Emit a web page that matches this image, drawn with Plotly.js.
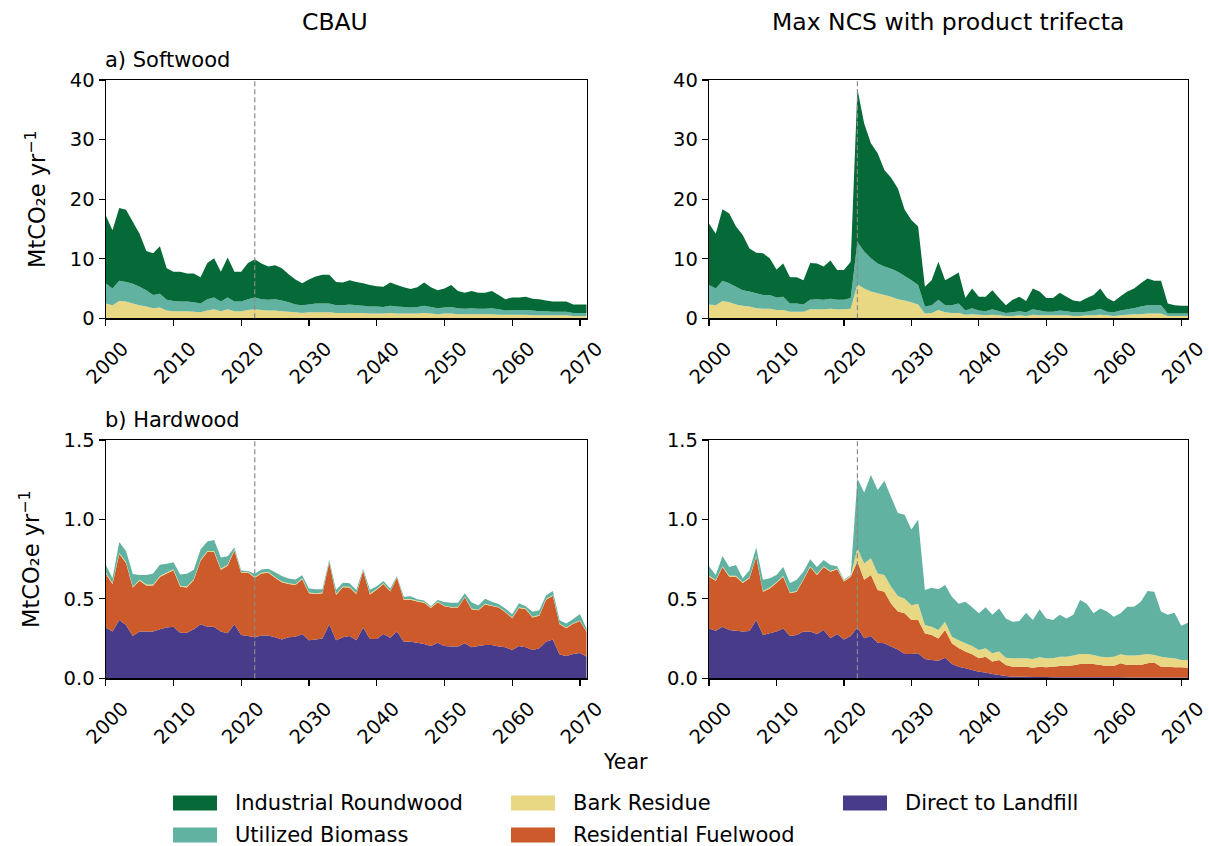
<!DOCTYPE html>
<html><head><meta charset="utf-8">
<script src="https://cdn.plot.ly/plotly-3.0.1.min.js"></script>
<style>html,body{margin:0;padding:0;background:#fff;} #chart{width:1209px;height:846px;}</style>
</head><body><div id="chart"></div>
<script>
// ---------------- DATA ----------------
const years = [2000,2001,2002,2003,2004,2005,2006,2007,2008,2009,
 2010,2011,2012,2013,2014,2015,2016,2017,2018,2019,
 2020,2021,2022,2023,2024,2025,2026,2027,2028,2029,
 2030,2031,2032,2033,2034,2035,2036,2037,2038,2039,
 2040,2041,2042,2043,2044,2045,2046,2047,2048,2049,
 2050,2051,2052,2053,2054,2055,2056,2057,2058,2059,
 2060,2061,2062,2063,2064,2065,2066,2067,2068,2069,
 2070,2071];
const xTickVals = [2000,2010,2020,2030,2040,2050,2060,2070];
const dashYear = 2022;

// Softwood, CBAU
const swBarkCBAU = [2.5,2.2,2.9,2.8,2.5,2.2,2.0,1.7,1.8,1.3, 1.2,1.2,1.2,1.1,1.0,1.3,1.5,1.2,1.5,1.2, 1.2,1.4,1.5,1.4,1.3,1.3,1.2,1.1,1.0,0.9, 1.0,1.0,1.0,1.0,0.9,0.9,0.9,0.9,0.9,0.8, 0.8,0.8,0.9,0.8,0.8,0.8,0.8,0.9,0.8,0.7, 0.8,0.8,0.7,0.7,0.7,0.7,0.7,0.7,0.6,0.6, 0.6,0.6,0.6,0.5,0.5,0.5,0.5,0.5,0.5,0.4, 0.4,0.4];
const swUBCBAU = [3.4,2.8,3.4,3.3,3.3,3.1,2.7,2.2,2.3,1.8, 1.7,1.6,1.6,1.6,1.5,1.9,2.0,1.6,2.0,1.6, 1.6,1.8,2.0,1.8,1.8,1.9,1.8,1.6,1.3,1.3, 1.3,1.5,1.5,1.5,1.3,1.3,1.4,1.3,1.2,1.2, 1.2,1.1,1.2,1.2,1.1,1.0,1.1,1.2,1.1,1.0, 1.0,1.1,1.0,0.9,1.0,0.9,0.9,1.0,0.9,0.7, 0.8,0.8,0.8,0.8,0.7,0.7,0.6,0.6,0.6,0.5, 0.5,0.5];
const swIRCBAU = [11.4,9.8,12.2,12.1,10.4,8.9,6.6,7.0,8.0,5.3, 4.9,5.0,4.7,4.8,4.4,6.1,6.6,5.0,6.7,5.0, 5.0,6.1,6.4,6.0,5.6,5.7,5.4,4.7,4.2,3.7, 4.2,4.5,4.8,4.8,3.9,3.8,4.1,3.9,3.8,3.6, 3.4,3.4,3.9,3.6,3.3,3.1,3.3,3.9,3.3,3.0, 3.2,3.7,2.9,2.7,2.9,2.7,2.7,2.9,2.4,1.9, 2.1,2.1,2.2,2.0,2.0,1.8,1.7,1.7,1.7,1.4, 1.4,1.4];

// Softwood, Max NCS with product trifecta
const swBarkNCS = [2.3,2.2,2.9,2.7,2.3,2.1,2.0,1.7,1.6,1.6, 1.4,1.4,1.1,1.1,1.1,1.5,1.5,1.5,1.6,1.5, 1.5,1.6,5.7,5.0,4.5,4.2,3.9,3.6,3.2,3.0, 2.7,2.3,0.8,0.9,1.4,1.0,0.9,0.9,0.6,0.7, 0.6,0.5,0.6,0.5,0.4,0.4,0.5,0.4,0.6,0.5, 0.5,0.5,0.5,0.5,0.4,0.4,0.5,0.5,0.6,0.5, 0.4,0.5,0.6,0.7,0.7,0.8,0.8,0.8,0.4,0.4, 0.4,0.4];
const swUBNCS = [3.3,2.8,3.4,3.2,3.0,2.6,2.5,2.5,2.3,2.3, 2.1,2.2,1.4,1.4,1.2,1.6,1.7,1.6,1.7,1.6, 1.6,1.8,7.1,6.2,5.6,5.0,4.8,4.7,4.6,4.1, 3.7,3.3,1.2,1.3,1.7,1.2,1.3,1.6,0.7,1.0, 0.7,0.7,0.9,0.7,0.5,0.6,0.7,0.6,0.9,0.8, 0.6,0.6,0.8,0.7,0.6,0.6,0.6,0.8,1.0,0.6, 0.6,0.8,0.9,1.0,1.3,1.4,1.4,1.4,0.4,0.4, 0.4,0.4];
const swIRNCS = [10.3,9.2,12.0,11.7,10.1,9.3,7.2,6.8,7.0,6.2, 4.7,5.6,4.4,4.4,4.1,6.2,6.0,5.6,6.4,5.0, 5.0,6.1,25.7,21.5,19.3,18.5,16.2,15.3,14.0,11.1, 10.1,9.8,3.3,4.2,6.4,4.2,4.8,5.2,2.1,3.3, 2.3,2.4,3.2,2.2,1.3,2.1,2.4,1.9,3.5,3.2, 2.3,2.3,3.0,2.4,2.0,1.8,2.3,2.6,3.4,2.3, 1.8,2.4,3.0,3.3,3.9,4.5,4.1,4.1,1.7,1.4, 1.3,1.3];

// Hardwood, CBAU
const hwDLCBAU = [0.320,0.294,0.367,0.336,0.266,0.294,0.294,0.294,0.308,0.320, 0.325,0.287,0.287,0.308,0.340,0.325,0.325,0.294,0.283,0.340, 0.273,0.266,0.258,0.270,0.270,0.258,0.245,0.258,0.262,0.279, 0.240,0.245,0.250,0.340,0.240,0.258,0.266,0.240,0.320,0.248, 0.248,0.279,0.256,0.294,0.230,0.230,0.224,0.216,0.203,0.224, 0.203,0.200,0.200,0.220,0.195,0.203,0.210,0.210,0.200,0.195, 0.178,0.203,0.195,0.178,0.189,0.230,0.245,0.150,0.140,0.153, 0.160,0.136];
const hwRFCBAU = [0.34,0.30,0.415,0.39,0.305,0.32,0.29,0.29,0.33,0.34, 0.355,0.29,0.285,0.31,0.40,0.47,0.47,0.39,0.425,0.465, 0.39,0.40,0.375,0.39,0.395,0.375,0.36,0.335,0.325,0.345, 0.295,0.285,0.285,0.39,0.285,0.315,0.305,0.29,0.355,0.28, 0.31,0.315,0.29,0.34,0.265,0.265,0.26,0.26,0.24,0.255, 0.25,0.245,0.245,0.29,0.24,0.225,0.255,0.245,0.245,0.22, 0.20,0.24,0.24,0.205,0.205,0.265,0.275,0.19,0.175,0.19, 0.20,0.155];
const hwBarkCBAU = [0.006,0.006,0.006,0.006,0.006,0.006,0.006,0.006,0.006,0.006, 0.006,0.006,0.006,0.006,0.006,0.006,0.006,0.006,0.006,0.006, 0.005,0.005,0.005,0.005,0.005,0.005,0.005,0.005,0.005,0.005, 0.005,0.005,0.005,0.005,0.005,0.005,0.005,0.005,0.005,0.005, 0.004,0.004,0.004,0.004,0.004,0.004,0.004,0.004,0.004,0.004, 0.004,0.004,0.004,0.004,0.004,0.004,0.004,0.004,0.004,0.004, 0.004,0.004,0.004,0.004,0.004,0.004,0.004,0.004,0.004,0.004, 0.004,0.004];
const hwUBCBAU = [0.05,0.03,0.07,0.07,0.08,0.03,0.06,0.07,0.07,0.055, 0.045,0.07,0.08,0.06,0.065,0.06,0.07,0.07,0.055,0.012, 0.01,0.005,0.02,0.02,0.02,0.03,0.034,0.03,0.03,0.02, 0.026,0.025,0.02,0.011,0.026,0.023,0.023,0.021,0.01,0.025, 0.017,0.015,0.016,0.006,0.014,0.018,0.01,0.01,0.007,0.01, 0.023,0.026,0.026,0.021,0.04,0.026,0.032,0.023,0.018,0.02, 0.021,0.026,0.015,0.032,0.03,0.024,0.026,0.021,0.026,0.027, 0.04,0.016];

// Hardwood, Max NCS with product trifecta
const hwDLNCS = [0.314,0.30,0.325,0.304,0.30,0.294,0.298,0.367,0.273,0.283, 0.294,0.314,0.266,0.273,0.294,0.294,0.279,0.304,0.252,0.279, 0.245,0.266,0.32,0.252,0.266,0.224,0.22,0.20,0.182,0.153, 0.153,0.157,0.122,0.115,0.111,0.13,0.09,0.073,0.063,0.052, 0.042,0.036,0.027,0.021,0.015,0.01,0.009,0.009,0.008,0.008, 0.008,0.007,0.007,0.007,0.007,0.007,0.006,0.006,0.006,0.006, 0.006,0.006,0.005,0.005,0.005,0.005,0.005,0.005,0.005,0.005, 0.005,0.005];
const hwRFNCS = [0.326,0.314,0.375,0.336,0.34,0.306,0.332,0.398,0.272,0.283, 0.306,0.326,0.269,0.272,0.326,0.406,0.371,0.396,0.418,0.407, 0.365,0.374,0.415,0.368,0.384,0.332,0.325,0.27,0.238,0.257, 0.214,0.21,0.161,0.158,0.139,0.174,0.13,0.117,0.105,0.099, 0.084,0.10,0.078,0.094,0.069,0.063,0.064,0.064,0.059,0.065, 0.061,0.066,0.071,0.071,0.075,0.083,0.084,0.084,0.078,0.072, 0.072,0.088,0.079,0.079,0.079,0.089,0.095,0.068,0.068,0.064, 0.064,0.062];
const hwBarkNCS = [0.005,0.005,0.005,0.005,0.005,0.005,0.005,0.005,0.005,0.005, 0.005,0.005,0.005,0.005,0.005,0.005,0.005,0.005,0.005,0.005, 0.005,0.005,0.083,0.103,0.105,0.104,0.105,0.107,0.098,0.09, 0.093,0.103,0.052,0.052,0.054,0.052,0.042,0.05,0.052,0.052, 0.052,0.053,0.052,0.053,0.046,0.053,0.053,0.053,0.055,0.059, 0.057,0.053,0.058,0.058,0.061,0.063,0.063,0.057,0.052,0.054, 0.058,0.057,0.059,0.059,0.063,0.059,0.047,0.063,0.057,0.057, 0.046,0.048];
const hwUBNCS = [0.061,0.031,0.065,0.055,0.068,0.025,0.045,0.054,0.07,0.059, 0.045,0.055,0.06,0.07,0.045,0.045,0.045,0.039,0.038,0.015, 0.005,0.005,0.44,0.447,0.525,0.525,0.593,0.563,0.522,0.53, 0.477,0.53,0.221,0.245,0.256,0.231,0.252,0.23,0.262,0.244, 0.232,0.258,0.243,0.272,0.247,0.23,0.234,0.287,0.245,0.302, 0.251,0.241,0.264,0.241,0.257,0.34,0.317,0.263,0.304,0.288, 0.252,0.259,0.307,0.307,0.335,0.397,0.398,0.284,0.27,0.287, 0.215,0.235];

// Labels
const seriesNames = ['Industrial Roundwood','Utilized Biomass','Bark Residue','Residential Fuelwood','Direct to Landfill'];
const seriesColors = {
  'Industrial Roundwood':'#056a38',
  'Utilized Biomass':'#62b2a1',
  'Bark Residue':'#e8d884',
  'Residential Fuelwood':'#cc5a2a',
  'Direct to Landfill':'#483b8a'
};
const columnTitles = ['CBAU','Max NCS with product trifecta'];
const rowTitles = ['a) Softwood','b) Hardwood'];
const yLabel = 'MtCO\u2082e yr<sup>\u22121</sup>';
const xLabel = 'Year';

// ---------------- BUILD ----------------
const W = 1209, H = 846;
const px = v => v / W;
const py = v => 1 - v / H;
const FONT = 'DejaVu Sans, sans-serif';

function area(name, vals, xa, ya, group){
  return {type:'scatter', x: years, y: vals, name: name, stackgroup: group,
    mode:'none', fillcolor: seriesColors[name], line:{width:0, color: seriesColors[name]},
    xaxis: xa, yaxis: ya, showlegend:false, hoverinfo:'x+y+name'};
}

const traces = [
  area('Bark Residue', swBarkCBAU, 'x', 'y', 'swC'),
  area('Utilized Biomass', swUBCBAU, 'x', 'y', 'swC'),
  area('Industrial Roundwood', swIRCBAU, 'x', 'y', 'swC'),

  area('Bark Residue', swBarkNCS, 'x2', 'y2', 'swN'),
  area('Utilized Biomass', swUBNCS, 'x2', 'y2', 'swN'),
  area('Industrial Roundwood', swIRNCS, 'x2', 'y2', 'swN'),

  area('Direct to Landfill', hwDLCBAU, 'x3', 'y3', 'hwC'),
  area('Residential Fuelwood', hwRFCBAU, 'x3', 'y3', 'hwC'),
  area('Bark Residue', hwBarkCBAU, 'x3', 'y3', 'hwC'),
  area('Utilized Biomass', hwUBCBAU, 'x3', 'y3', 'hwC'),

  area('Direct to Landfill', hwDLNCS, 'x4', 'y4', 'hwN'),
  area('Residential Fuelwood', hwRFNCS, 'x4', 'y4', 'hwN'),
  area('Bark Residue', hwBarkNCS, 'x4', 'y4', 'hwN'),
  area('Utilized Biomass', hwUBNCS, 'x4', 'y4', 'hwN')
];

const leftDom = [px(105.7), px(586.7)];
const rightDom = [px(709), px(1188)];
const topDom = [py(318.3), py(80)];
const botDom = [py(678.3), py(440)];

function xax(dom, anchor){
  return {domain: dom, anchor: anchor, range:[2000, 2071], tickmode:'array', tickvals: xTickVals,
    ticktext: xTickVals.map(String),
    ticks:'outside', ticklen:6, tickwidth:1.2, tickcolor:'#000', tickangle:-45,
    ticklabelshift: 17, ticklabelstandoff: 4, ticklabeloverflow:'allow',
    showline:true, linecolor:'#000', linewidth:1.2, mirror:true, showgrid:false, zeroline:false,
    tickfont:{family:FONT, size:19.5, color:'#000'}};
}
function yax(dom, anchor, range, dtick, fmt, title){
  const a = {domain: dom, anchor: anchor, range: range, dtick: dtick, tick0:0, tickformat: fmt,
    ticks:'outside', ticklen:6, tickwidth:1.2, tickcolor:'#000',
    showline:true, linecolor:'#000', linewidth:1.2, mirror:true, showgrid:false, zeroline:false,
    tickfont:{family:FONT, size:19.5, color:'#000'}};
  if (title) a.title = {text: title, font:{family:FONT, size:22.5, color:'#000'}, standoff: 17};
  return a;
}

const shapes = [];
[['x','y'],['x2','y2'],['x3','y3'],['x4','y4']].forEach(([xa,ya])=>{
  shapes.push({type:'line', xref:xa, yref: ya + ' domain', x0:dashYear, x1:dashYear, y0:0, y1:1,
    line:{color:'#8a8a8a', width:1.2, dash:'5px,3px'}, layer:'above'});
});

const annotations = [
  {text: columnTitles[0], x: px(335), y: py(22)},
  {text: columnTitles[1], x: px(948), y: py(22)}
].map(a => Object.assign(a, {xref:'paper', yref:'paper', showarrow:false, xanchor:'center', yanchor:'middle',
  font:{family:FONT, size:23.5, color:'#000'}}));

annotations.push({text: rowTitles[0], x: px(103), y: py(60), xref:'paper', yref:'paper', showarrow:false,
  xanchor:'left', yanchor:'middle', font:{family:FONT, size:21, color:'#000'}});
annotations.push({text: rowTitles[1], x: px(103), y: py(420), xref:'paper', yref:'paper', showarrow:false,
  xanchor:'left', yanchor:'middle', font:{family:FONT, size:21, color:'#000'}});
annotations.push({text: xLabel, x: px(625), y: py(762), xref:'paper', yref:'paper', showarrow:false,
  xanchor:'center', yanchor:'middle', font:{family:FONT, size:20.5, color:'#000'}});

// Legend (matplotlib-style, 3 columns, column-major)
const legCols = [173, 511, 843];
const legRows = [803, 835];
seriesNames.forEach((name, i) => {
  const col = Math.floor(i / 2), row = i % 2;
  const x0 = legCols[col], yc = legRows[row];
  shapes.push({type:'rect', xref:'paper', yref:'paper', x0: px(x0), x1: px(x0 + 44),
    y0: py(yc + 7.5), y1: py(yc - 7.5), fillcolor: seriesColors[name], line:{width:0}});
  annotations.push({text: name, x: px(x0 + 60), y: py(yc), xref:'paper', yref:'paper', showarrow:false,
    xanchor:'left', yanchor:'middle', font:{family:FONT, size:21, color:'#000'}});
});

const layout = {
  width: W, height: H, margin:{l:0, r:0, t:0, b:0},
  paper_bgcolor:'#fff', plot_bgcolor:'#fff', showlegend:false,
  font:{family:FONT, color:'#000'},
  xaxis: xax(leftDom, 'y'), yaxis: yax(topDom, 'x', [0,40], 10, 'd', yLabel),
  xaxis2: xax(rightDom, 'y2'), yaxis2: yax(topDom, 'x2', [0,40], 10, 'd', null),
  xaxis3: xax(leftDom, 'y3'), yaxis3: yax(botDom, 'x3', [0,1.5], 0.5, '.1f', yLabel),
  xaxis4: xax(rightDom, 'y4'), yaxis4: yax(botDom, 'x4', [0,1.5], 0.5, '.1f', null),
  shapes: shapes, annotations: annotations
};

Plotly.newPlot('chart', traces, layout, {displayModeBar:false, staticPlot:true});
</script>
</body></html>
